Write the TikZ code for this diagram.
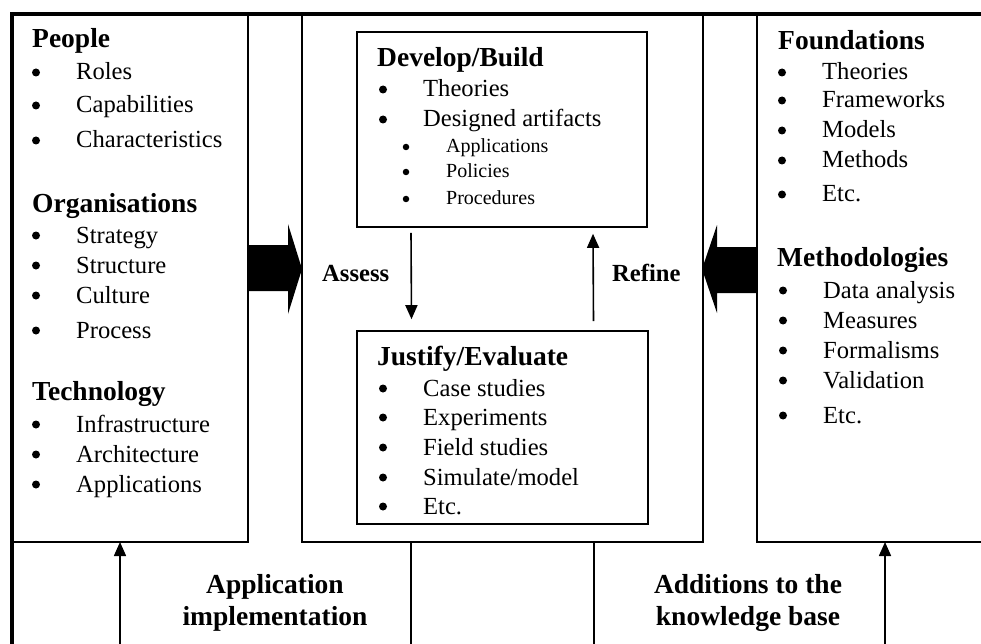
\documentclass[tikz,border=0pt]{standalone}
\usepackage{fontspec}
\setmainfont{Liberation Serif}
\usetikzlibrary{arrows.meta}

\def\xaxis{981}
\def\yaxis{644}

\tikzset{
	head/.style={anchor=base west, inner sep=0pt, font=\fontsize{27.5}{30}\selectfont\bfseries},
	entry/.style={anchor=base west, inner sep=0pt, font=\fontsize{24.6}{28}\selectfont},
	subentry/.style={anchor=base west, inner sep=0pt, font=\fontsize{20}{24}\selectfont},
	entrydot/.style={circle, fill, inner sep=0pt, minimum size=8pt, yshift=7.5pt},
	subentrydot/.style={circle, fill, inner sep=0pt, minimum size=6.5pt, yshift=6pt},
	tag/.style={anchor=base west, inner sep=0pt, font=\fontsize{24.6}{28}\selectfont\bfseries},
	caption/.style={anchor=base, inner sep=0pt, font=\fontsize{27.5}{30}\selectfont\bfseries},
	box/.style={draw, line width=1.6pt, inner sep=0pt},
	wall/.style={line width=1.6pt},
	flow/.style={line width=1.6pt, -{Triangle[length=14pt,width=12pt]}},
}

% bullet item: [style]{name}{x}{y}{text}
\newcommand{\listitem}[5][entry]{%
	\node[#1dot] (#2-dot) at (#3-40,#4) {};
	\node[#1] (#2) at (#3,#4) {#5};}

\begin{document}
\begin{tikzpicture}[x=1pt,y=-1pt]

	\useasboundingbox (0,0) rectangle (\xaxis,\yaxis);

	%%% Outer frame
	\draw[line width=4pt] (12,\yaxis) -- (12,14) -- (\xaxis,14);

	%%% Environment, research and knowledge base
	\draw[wall] (12,542) -- (248,542) -- (248,14);
	\draw[wall] (302,14) -- (302,542) -- (703,542) -- (703,14);
	\draw[wall] (\xaxis,542) -- (757,542) -- (757,14);

	%%% Bottom links
	\coordinate (env_bot) at (120,542);
	\coordinate (env_in) at (120,\yaxis);
	\draw[flow] (env_in) -- (env_bot);
	\coordinate (res_left) at (411,542);
	\coordinate (res_left_out) at (411,\yaxis);
	\draw[wall] (res_left) -- (res_left_out);
	\coordinate (res_right) at (594,542);
	\coordinate (res_right_out) at (594,\yaxis);
	\draw[wall] (res_right) -- (res_right_out);
	\coordinate (kb_bot) at (885,542);
	\coordinate (kb_in) at (885,\yaxis);
	\draw[flow] (kb_in) -- (kb_bot);

	\node[caption] (app1) at (275,593) {Application};
	\node[caption] (app2) at (275,625) {implementation};
	\node[caption] (add1) at (748,593) {Additions to the};
	\node[caption] (add2) at (748,625) {knowledge base};

	%%% Block arrows
	\fill (248,245) -- (288,245) -- (288,224) -- (302,269) -- (288,314) -- (288,291) -- (248,291) -- cycle;
	\fill (757,247) -- (717,247) -- (717,225) -- (702,269) -- (717,313) -- (717,293) -- (757,293) -- cycle;

	%%% Environment
	\node[head] (people) at (32,48) {People};
	\foreach \y/\t in {80/Roles, 113/Capabilities, 148/Characteristics}
		{\listitem{people-\y}{76}{\y}{\t}}
	\node[head] (orgs) at (32,212) {Organisations};
	\foreach \y/\t in {243/Strategy, 273/Structure, 303/Culture, 338/Process}
		{\listitem{orgs-\y}{76}{\y}{\t}}
	\node[head] (tech) at (32,400) {Technology};
	\foreach \y/\t in {432/Infrastructure, 462/Architecture, 492/Applications}
		{\listitem{tech-\y}{76}{\y}{\t}}

	%%% Research
	\node[box, minimum width=290pt, minimum height=195pt] (build) at (502,129.5) {};
	\node[head] (build_t) at (377,67) {Develop/Build};
	\foreach \y/\t in {97/Theories, 127/Designed artifacts}
		{\listitem{build-\y}{423}{\y}{\t}}
	\foreach \y/\t in {153/Applications, 178/Policies, 205/Procedures}
		{\listitem[subentry]{art-\y}{446}{\y}{\t}}

	\node[box, minimum width=291pt, minimum height=193pt] (judge) at (502.5,427.5) {};
	\node[head] (judge_t) at (377,365) {Justify/Evaluate};
	\foreach \y/\t in {396/Case studies, 425/Experiments, 455/Field studies, 485/{Simulate/model}, 514/Etc.}
		{\listitem{judge-\y}{423}{\y}{\t}}

	\draw[flow] ([xshift=-91pt,yshift=-5pt]build.south) -- ([xshift=-91pt,yshift=11pt]judge.north);
	\draw[flow] ([xshift=91pt,yshift=9pt]judge.north) -- ([xshift=91pt,yshift=-6pt]build.south);
	\node[tag] (assess) at (322,281) {Assess};
	\node[tag] (refine) at (612,281) {Refine};

	%%% Knowledge base
	\node[head] (found) at (778,50) {Foundations};
	\foreach \y/\t in {80/Theories, 108/Frameworks, 138/Models, 168/Methods, 202/Etc.}
		{\listitem{found-\y}{822}{\y}{\t}}
	\node[head] (meth) at (777,266) {Methodologies};
	\foreach \y/\t in {298/Data analysis, 328/Measures, 358/Formalisms, 388/Validation, 423/Etc.}
		{\listitem{meth-\y}{823}{\y}{\t}}

\end{tikzpicture}
\end{document}
